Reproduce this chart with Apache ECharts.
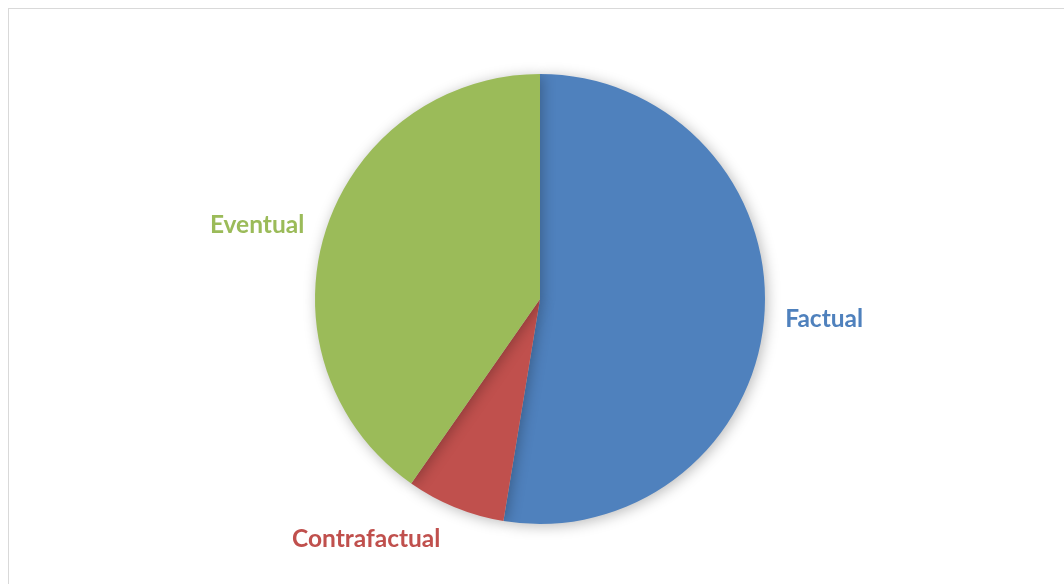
<!DOCTYPE html>
<html>
<head>
<meta charset="utf-8">
<script src="https://cdn.jsdelivr.net/npm/echarts@6/dist/echarts.min.js"></script>
<style>
  html, body { margin: 0; padding: 0; background: #ffffff; }
  #frame { position: absolute; left: 8px; top: 8px; width: 1070px; height: 590px;
           border: 1.5px solid #d9d9d9; box-sizing: border-box; }
  #chart { position: absolute; left: 0; top: 0; width: 1064px; height: 584px; }
</style>
</head>
<body>
<div id="frame"></div>
<div id="chart"></div>
<script>
// Share of each statement type (%)
const categories = ['Factual', 'Contrafactual', 'Eventual'];
const shares = [52.6, 7.1, 40.3];
const colors = ['#4F81BD', '#C0504D', '#9BBB59'];
// Distance of each label from the pie edge
const labelGaps = [19, 34, 20];

const chart = echarts.init(document.getElementById('chart'), null, { renderer: 'canvas' });

chart.setOption({
  animation: false,
  series: [{
    type: 'pie',
    center: [540, 299],
    radius: 225,
    startAngle: 90,
    clockwise: true,
    data: categories.map((name, i) => ({
      name,
      value: shares[i],
      itemStyle: { color: colors[i] },
      label: { color: colors[i] },
      labelLine: { length: labelGaps[i] }
    })),
    itemStyle: {
      borderWidth: 0,
      shadowBlur: 14,
      shadowColor: 'rgba(0,0,0,0.28)',
      shadowOffsetX: 2,
      shadowOffsetY: 2
    },
    label: {
      show: true,
      position: 'outside',
      formatter: '{b}',
      fontFamily: 'Lato',
      fontWeight: 'bold',
      fontSize: 24.5,
      distanceToLabelLine: 2
    },
    labelLine: { show: false, length: 20, length2: 0 },
    emphasis: { disabled: true }
  }]
});
</script>
</body>
</html>
